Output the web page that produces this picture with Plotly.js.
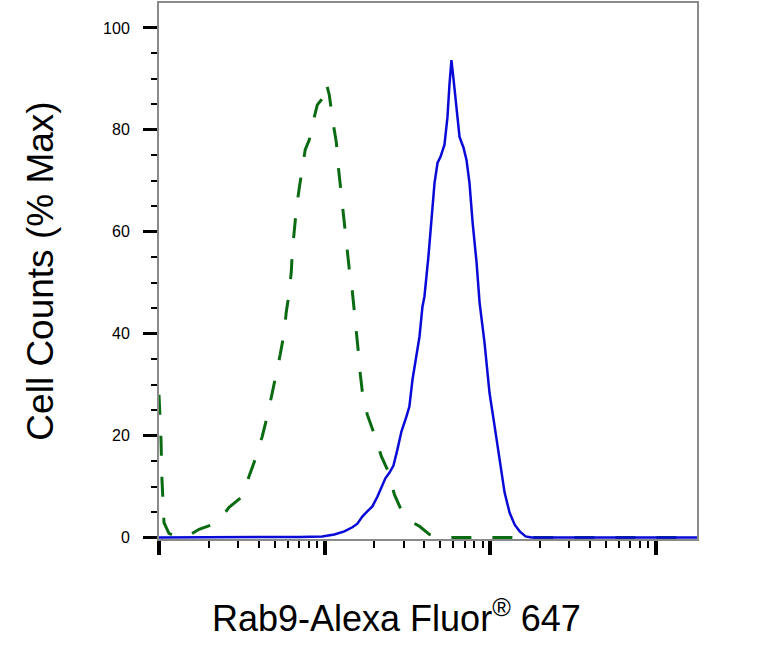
<!DOCTYPE html>
<html>
<head>
<meta charset="utf-8">
<script src="https://cdn.plot.ly/plotly-3.0.1.min.js"></script>
<style>
  html, body { margin: 0; padding: 0; background: #fff; }
  #plot { width: 783px; height: 647px; }
</style>
</head>
<body>
<div id="plot"></div>
<script>
// isotype control (green dashed) - intensity vs % of max
const greenIntensity = [1.0, 1.028, 1.042, 1.072, 1.148, 1.285, 1.517, 1.746, 2.094, 2.371, 2.649, 3.177,
  3.499, 3.864, 4.198, 4.498, 4.831, 5.105, 5.395, 5.702, 5.861, 6.109, 6.295, 6.383, 6.561, 6.745,
  7.031, 7.328, 7.638, 8.072, 8.433, 9.036, 9.683, 10.23, 10.67, 11.30, 11.78, 12.11, 12.45, 12.97,
  13.34, 13.71, 14.09, 14.72, 15.14, 15.56, 16.00, 16.44, 16.90, 18.11, 20.00, 22.03, 24.27, 26.42,
  29.51, 33.42, 37.41, 42.95, 49.43, 1778];
const greenPctMax = [28.0, 19.2, 11.4, 2.9, 0.8, 0.2, 0.4, 1.6, 2.5, 3.9, 5.9, 8.0,
  12.0, 15.9, 19.8, 23.7, 28.4, 32.0, 35.9, 40.2, 44.1, 48.0, 52.2, 56.1, 60.4, 64.3,
  68.6, 72.5, 76.1, 78.0, 81.0, 84.9, 86.1, 89.2, 86.9, 81.0, 77.5, 72.7, 69.0, 64.7,
  61.0, 56.5, 52.7, 48.2, 44.5, 40.2, 36.3, 32.0, 28.6, 24.1, 20.2, 15.9, 12.9, 8.4,
  4.9, 3.1, 2.2, 0.6, 0, 0];

// Rab9 stained sample (blue solid)
const blueIntensity = [1.0, 4.63, 4.96, 7.03, 9.68, 11.45, 13.16, 14.72, 15.78, 16.90, 18.11, 19.43,
  20.83, 22.03, 23.29, 24.62, 26.06, 27.54, 29.11, 31.19, 32.51, 33.96, 35.89, 37.41, 39.00, 40.09,
  42.36, 44.16, 46.13, 48.08, 50.12, 52.97, 55.21, 56.75, 58.34, 60.12, 61.80, 65.31, 69.02, 71.94,
  74.99, 78.34, 82.79, 86.30, 92.47, 96.38, 99.08, 106.4, 114.0, 122.2, 130.9, 140.6, 150.7, 163.7,
  177.8, 1774];
const bluePctMax = [0, 0, 0, 0.1, 0.2, 0.6, 1.2, 2.0, 2.7, 4.1, 5.1, 6.1,
  8.0, 10.0, 11.6, 12.7, 14.1, 17.3, 20.8, 23.7, 25.7, 31.0, 35.5, 39.4, 45.3, 47.3,
  55.1, 61.8, 69.6, 73.5, 74.7, 77.1, 82.5, 88.8, 93.7, 89.8, 85.9, 78.6, 76.5, 74.1,
  69.6, 61.8, 53.9, 46.1, 38.2, 31.4, 28.4, 21.8, 14.9, 8.8, 4.9, 2.5, 1.2, 0.2,
  0, 0];

const yTickVals = [0, 20, 40, 60, 80, 100];
const yTickText = ['0', '20', '40', '60', '80', '100'];
const xMajorTicks = [1, 10, 100, 1000];
const xMinorTicks = [2, 3, 4, 5, 6, 7, 8, 9, 20, 30, 40, 50, 60, 70, 80, 90,
  200, 300, 400, 500, 600, 700, 800, 900];

const font = 'Arial, "Liberation Sans", Helvetica, sans-serif';

const traces = [
  {
    type: 'scatter',
    mode: 'lines',
    x: greenIntensity,
    y: greenPctMax,
    line: { color: '#0b6b12', width: 3, dash: '20px,21px' },
    showlegend: false,
    hoverinfo: 'skip'
  },
  {
    type: 'scatter',
    mode: 'lines',
    x: blueIntensity,
    y: bluePctMax,
    line: { color: '#0a0ad8', width: 2.5 },
    showlegend: false,
    hoverinfo: 'skip'
  }
];

const layout = {
  width: 783,
  height: 647,
  margin: { l: 159, r: 86, t: 3, b: 108, pad: 0 },
  paper_bgcolor: '#fff',
  plot_bgcolor: '#fff',
  font: { family: font, color: '#000' },
  xaxis: {
    type: 'log',
    range: [0, 3.249],
    showgrid: false,
    zeroline: false,
    showline: true,
    linecolor: '#8a8a8a',
    linewidth: 2,
    mirror: true,
    ticks: 'outside',
    tickmode: 'array',
    tickvals: xMajorTicks,
    ticklen: 14,
    tickwidth: 4,
    tickcolor: '#000',
    showticklabels: false,
    minor: {
      tickmode: 'array',
      tickvals: xMinorTicks,
      ticks: 'outside',
      ticklen: 7,
      tickwidth: 2,
      tickcolor: '#000',
      showgrid: false
    }
  },
  yaxis: {
    range: [-0.3, 104.9],
    showgrid: false,
    zeroline: false,
    showline: true,
    linecolor: '#8a8a8a',
    linewidth: 2,
    mirror: true,
    ticks: 'outside',
    tickmode: 'array',
    tickvals: yTickVals,
    ticktext: yTickText,
    ticklen: 14,
    tickwidth: 3,
    tickcolor: '#000',
    ticklabelstandoff: 10,
    tickfont: { family: font, size: 16, color: '#000' },
    minor: {
      tickmode: 'linear',
      tick0: 0,
      dtick: 5,
      ticks: 'outside',
      ticklen: 6,
      tickwidth: 2,
      tickcolor: '#000',
      showgrid: false
    },
    title: {
      text: 'Cell Counts (% Max)',
      font: { family: font, size: 37, color: '#000' },
      standoff: 38
    }
  },
  annotations: [
    {
      // x-axis title sits left of the plot centre in the original
      text: 'Rab9-Alexa Fluor<sup>®</sup> 647',
      xref: 'paper',
      yref: 'paper',
      x: 0.442,
      y: -0.1437,
      xanchor: 'center',
      yanchor: 'middle',
      showarrow: false,
      font: { family: font, size: 36, color: '#000' }
    }
  ]
};

Plotly.newPlot('plot', traces, layout, { displayModeBar: false, staticPlot: true });
</script>
</body>
</html>
